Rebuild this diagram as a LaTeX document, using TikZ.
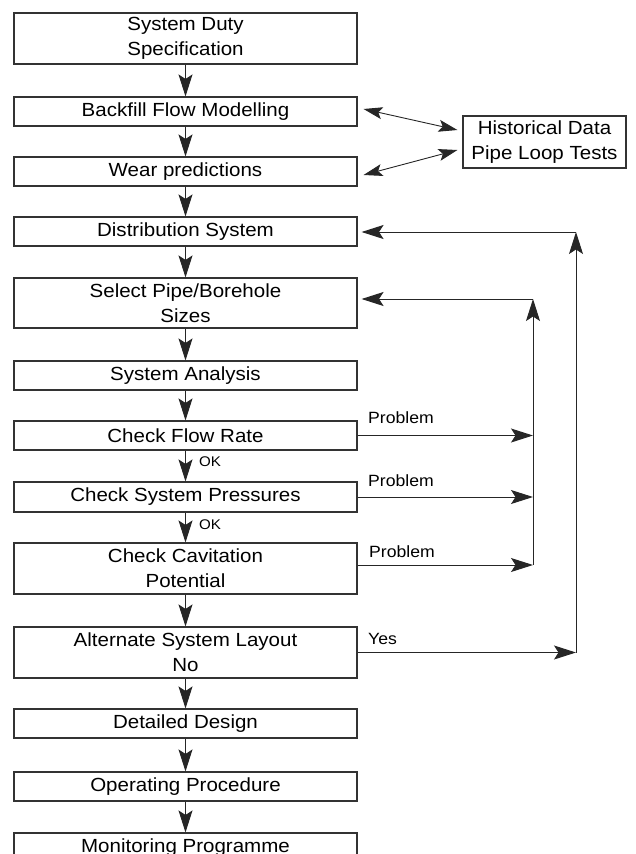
\documentclass[tikz,border=0pt]{standalone}
\usepackage{fontspec}
\setmainfont[FakeStretch=1.08]{Liberation Sans}
\usetikzlibrary{arrows.meta}
\begin{document}
\begin{tikzpicture}[x=1pt,y=-1pt,
  box/.style={draw=black!80, line width=1.1pt, minimum width=343pt, inner sep=0pt, align=center, font=\fontsize{19}{25}\selectfont, text=black},
  arr/.style={line width=1pt, draw=black!85, -{Stealth[length=22pt,width=14pt,inset=4.5pt]}},
  dbl/.style={line width=0.9pt, draw=black!85, {Stealth[length=19pt,width=12pt,inset=4pt]}-{Stealth[length=19pt,width=12pt,inset=4pt]}},
  lbl/.style={font=\fontsize{16.3}{18}\selectfont, anchor=west, inner sep=0pt, text=black},
  oklbl/.style={font=\fontsize{14}{16}\selectfont, anchor=west, inner sep=0pt, text=black}]
\useasboundingbox (0,0) rectangle (635,854);
\clip (0,0) rectangle (635,854);
\node[box, minimum height=51pt] (b1) at (185.5,38.5) {System Duty\\Specification};
\node[box, minimum height=29pt] (b2) at (185.5,111.5) {Backfill Flow Modelling};
\node[box, minimum height=29pt] (b3) at (185.5,171.5) {Wear predictions};
\node[box, minimum height=29pt] (b4) at (185.5,231.5) {Distribution System};
\node[box, minimum height=50pt] (b5) at (185.5,303) {Select Pipe/Borehole\\Sizes};
\node[box, minimum height=29pt] (b6) at (185.5,375.5) {System Analysis};
\node[box, minimum height=29pt] (b7) at (185.5,435.5) {Check Flow Rate};
\node[box, minimum height=30pt] (b8) at (185.5,497) {Check System Pressures};
\node[box, minimum height=51pt] (b9) at (185.5,568.5) {Check Cavitation\\Potential};
\node[box, minimum height=51pt] (b10) at (185.5,652.5) {Alternate System Layout\\No};
\node[box, minimum height=29pt] (b11) at (185.5,723.5) {Detailed Design};
\node[box, minimum height=29pt] (b12) at (185.5,786.5) {Operating Procedure};
\node[box, minimum height=29pt] (b13) at (185.5,847.5) {Monitoring Programme};
\node[box, minimum width=163pt, minimum height=52pt] (h) at (544.5,142) {Historical Data\\Pipe Loop Tests};

\foreach \a/\b in {b1/b2,b2/b3,b3/b4,b4/b5,b5/b6,b6/b7,b7/b8,b8/b9,b9/b10,b10/b11,b11/b12,b12/b13}
  \draw[arr] (\a) -- (\b);

\draw[dbl] ([shift={(6,-2.5)}]b2.east) -- ([shift={(-5,-12)}]h.west);
\draw[dbl] ([shift={(6,3.5)}]b3.east) -- ([shift={(-5,8)}]h.west);

\coordinate (r1) at (533,299);
\coordinate (r2) at (576,232);
\coordinate (p3) at ([yshift=3.5pt]b9.east);
\draw[arr] (b7.east) -- (b7.east -| r1);
\draw[arr] (b8.east) -- (b8.east -| r1);
\draw[arr] (p3) -- (p3 -| r1);
\draw[arr] (p3 -| r1) -- (r1);
\draw[arr, shorten >=4pt] (r1) -- (r1 -| b5.east);
\draw[arr] (b10.east) -- (b10.east -| r2);
\draw[arr] (b10.east -| r2) -- (r2);
\draw[arr, shorten >=4pt] (r2) -- (r2 -| b4.east);

\node[lbl] (pl1) at (368,418) {Problem};
\node[lbl] (pl2) at (368,481) {Problem};
\node[lbl] (pl3) at (369,552) {Problem};
\node[lbl] (yes) at (368,639) {Yes};
\node[oklbl] (ok1) at (199,462) {OK};
\node[oklbl] (ok2) at (199,525) {OK};
\end{tikzpicture}
\end{document}
